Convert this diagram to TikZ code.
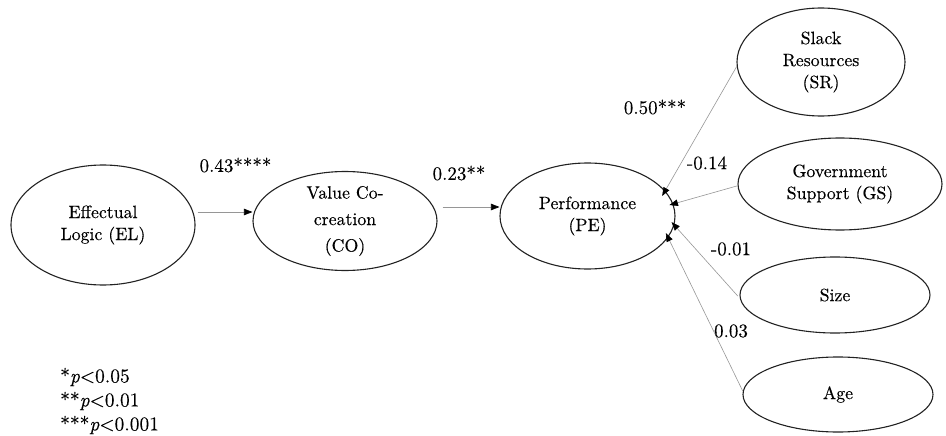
\documentclass[tikz,border=0pt]{standalone}
\usepackage{fontspec}
\setmainfont{lmroman10-regular.otf}[FakeBold=0.25, ItalicFont=lmroman10-italic.otf]
\usetikzlibrary{shapes.geometric,arrows.meta}

\definecolor{edgeline}{RGB}{34,34,34}
\definecolor{pathline}{RGB}{150,150,150}

\tikzset{
  construct/.style={shape=ellipse, draw=edgeline, line width=1.1pt, inner sep=0pt,
    align=center, font=\fontsize{17.8}{22}\selectfont},
  coef/.style={inner sep=0pt, font=\fontsize{19}{22}\selectfont},
  path arrow/.style={draw=pathline, line width=0.6pt,
    -{Triangle[length=8.5pt,width=6.5pt,color=black]}}
}

\begin{document}
\begin{tikzpicture}[x=1pt,y=-1pt]
\useasboundingbox (0,0) rectangle (946,436);

% constructs
\node[construct, minimum width=184pt, minimum height=120pt] (el) at (103,225) {Effectual\\Logic (EL)};
\node[construct, minimum width=184pt, minimum height=98pt,
      font=\fontsize{17.8}{26.5}\selectfont] (co) at (345,221) {Value Co-\\creation\\(CO)};
\node[construct, minimum width=175pt, minimum height=106pt] (pe) at (587.5,216) {Performance\\(PE)};
\node[construct, minimum width=168pt, minimum height=108pt] (sr) at (821,62) {Slack\\Resources\\(SR)};
\node[construct, minimum width=204pt, minimum height=92pt] (gs) at (840,184) {Government\\Support (GS)};
\node[construct, minimum width=190pt, minimum height=76pt] (sz) at (835,295) {Size};
\node[construct, minimum width=190pt, minimum height=75pt] (ag) at (838,394.5) {Age};

% structural paths
\draw[path arrow, shorten <=2pt] ([yshift=13pt]el.east) -- ([yshift=9pt]co.west);
\draw[path arrow, shorten <=5pt] ([yshift=14pt]co.east) -- ([yshift=9pt]pe.west);
\draw[path arrow, shorten >=-6pt] (sr.183) -- (pe.18);
\draw[path arrow, shorten >=-4pt] (gs.181) -- (pe.8.5);
\draw[path arrow, shorten >=-4pt, shorten <=3pt] (sz.182) -- (pe.-6);
\draw[path arrow, shorten >=-5pt] (ag.178) -- (pe.-15);

% path coefficients
\node[coef] (c1) at (235.5,165) {0.43****};
\node[coef] (c2) at (459,173) {0.23**};
\node[coef] (c3) at (655,107) {0.50***};
\node[coef] (c4) at (707,163) {-0.14};
\node[coef] (c5) at (731,249) {-0.01};
\node[coef] (c6) at (731,331) {0.03};

% significance key
\node[anchor=west, align=left, inner sep=0pt, font=\fontsize{19.5}{24}\selectfont] (key) at (60,401)
  {*\textit{p}<0.05\\**\textit{p}<0.01\\***\textit{p}<0.001};
\end{tikzpicture}
\end{document}
